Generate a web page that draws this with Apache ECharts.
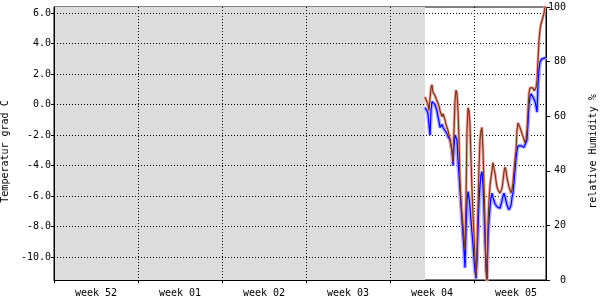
<!DOCTYPE html>
<html><head><meta charset="utf-8">
<script src="https://cdn.jsdelivr.net/npm/echarts@6/dist/echarts.min.js"></script>
<style>html,body{margin:0;padding:0;background:#fff}#c{width:600px;height:300px}</style>
</head><body><div id="c"></div>
<script>
// categories (ISO weeks), x measured in hours from the start of week 52
const weekLabels = ['week 52', 'week 01', 'week 02', 'week 03', 'week 04', 'week 05'];
const hoursPerWeek = 168;
const axisEndHour = 984;
const sampleStartHour = 742;   // first logged sample (end of the grey "no data" period)
const sampleStepHours = 2;

// tick labels
const tempTicks = [-10, -8, -6, -4, -2, 0, 2, 4, 6];
const tempMin = -11.5, tempMax = 6.4;
const humMin = 0, humMax = 100, humStep = 20;

// brown line (temperature, grad C)
const tempValues = [
  0.5, 0.4, 0.4, 0.0, -0.4, 0.4, 1.1, 1.3, 0.8, 0.7,
  0.6, 0.4, 0.3, 0.1, -0.1, -0.4, -0.6, -0.8, -0.6, -0.8,
  -1.0, -1.3, -1.5, -1.7, -2.0, -2.3, -2.7, -3.0, -3.8, -1.7,
  0.3, 0.95, 0.75, -0.4, -2.3, -5.0, -6.3, -7.2, -7.9, -8.9,
  -9.5, -6.3, -1.7, -0.2, -0.4, -1.3, -3.6, -5.6, -7.2, -8.6,
  -10.1, -11.3, -9.5, -6.7, -4.1, -2.3, -1.7, -1.5, -3.0, -5.3,
  -7.8, -10.9, -11.7, -7.8, -6.3, -5.3, -4.8, -4.3, -3.8, -4.2,
  -4.5, -5.0, -5.4, -5.6, -5.7, -5.8, -5.9, -5.5, -5.0, -4.4,
  -4.1, -4.3, -4.8, -5.1, -5.4, -5.6, -5.8, -5.6, -5.1, -4.3,
  -3.6, -3.0, -1.7, -1.2, -1.1, -1.5, -1.7, -1.9, -2.1, -2.3,
  -2.5, -2.3, -1.7, -0.4, 0.75, 1.1, 1.1, 1.0, 1.1, 0.9,
  0.95, 1.1, 1.6, 2.9, 4.2, 4.9, 5.3, 5.5, 5.4, 6.0,
  6.4, 6.5
];
// blue line (second sensor, same scale)
const blueValues = [
  -0.2, -0.2, -0.4, -0.6, -1.3, -2.0, -0.4, 0.2, 0.1, 0.2,
  0.0, -0.1, -0.4, -0.8, -1.1, -1.5, -1.5, -1.3, -1.5, -1.6,
  -1.7, -1.8, -1.9, -2.1, -2.2, -2.3, -2.4, -3.0, -4.0, -2.7,
  -2.0, -1.9, -2.3, -3.6, -4.6, -5.6, -6.6, -7.6, -8.6, -9.5,
  -10.7, -8.2, -6.3, -5.7, -6.1, -6.7, -7.6, -8.4, -9.2, -10.1,
  -10.9, -11.4, -10.2, -8.2, -6.3, -5.3, -4.6, -4.4, -5.3, -6.9,
  -8.9, -10.5, -11.4, -8.7, -7.6, -6.7, -6.1, -5.8, -6.1, -6.3,
  -6.5, -6.6, -6.7, -6.7, -6.8, -6.8, -6.7, -6.3, -6.0, -5.8,
  -5.8, -6.3, -6.6, -6.7, -6.9, -6.9, -6.6, -6.1, -5.8, -5.1,
  -4.3, -3.6, -3.0, -2.7, -2.6, -2.7, -2.7, -2.7, -2.7, -2.8,
  -2.8, -2.7, -2.3, -1.2, 0.0, 0.5, 0.7, 0.75, 0.5, 0.4,
  0.2, -0.1, -0.5, 1.3, 2.3, 2.8, 2.9, 3.0, 2.9, 3.05,
  3.05, 3.1
];

const toPairs = arr => arr.map((v, i) => [sampleStartHour + i * sampleStepHours, v]);
const weekStarts = weekLabels.map((_, i) => i * hoursPerWeek);
const weekMids = weekLabels.map((_, i) => i * hoursPerWeek + hoursPerWeek / 2);

const FONT = 'DejaVu Sans Mono';
const txt = { fontFamily: FONT, fontSize: 10, color: '#000' };
const dotted = { color: '#000', width: 1, type: [1, 2] };

const chart = echarts.init(document.getElementById('c'), null, { renderer: 'canvas' });
chart.setOption({
  animation: false,
  backgroundColor: '#fff',
  grid: { left: 54, right: 54, top: 7, bottom: 20, containLabel: false, outerBoundsMode: 'none',
    show: true, borderColor: '#000', borderWidth: 1, backgroundColor: 'transparent' },
  xAxis: {
    type: 'value', min: 0, max: axisEndHour, z: 3,
    axisLine: { onZero: false, lineStyle: { color: '#000', width: 1 } },
    axisTick: { show: true, length: 3, inside: false, customValues: weekStarts, lineStyle: { color: '#000' } },
    axisLabel: { ...txt, margin: 8, customValues: weekMids,
      formatter: v => weekLabels[Math.round((v - hoursPerWeek / 2) / hoursPerWeek)] || '' },
    splitLine: { show: true, lineStyle: dotted }
  },
  yAxis: [{
    type: 'value', position: 'left', min: tempMin, max: tempMax, z: 3,
    name: 'Temperatur grad C', nameLocation: 'middle', nameGap: 44, nameRotate: 90,
    nameTextStyle: { ...txt, padding: [0, 16, 0, 0] },
    axisLine: { show: true, onZero: false, lineStyle: { color: '#000', width: 1 } },
    axisTick: { show: true, length: 3, customValues: tempTicks, lineStyle: { color: '#000' } },
    axisLabel: { ...txt, margin: 3, customValues: tempTicks, formatter: v => v.toFixed(1) },
    splitLine: { show: true, lineStyle: dotted }
  }, {
    type: 'value', position: 'right', min: humMin, max: humMax, interval: humStep, z: 3,
    alignTicks: false,
    name: 'relative Humidity %', nameLocation: 'middle', nameGap: 42, nameRotate: 90,
    nameTextStyle: { ...txt, padding: [0, 16, 0, 0] },
    axisLine: { show: true, onZero: false, lineStyle: { color: '#000', width: 1 } },
    axisTick: { show: true, length: 4, lineStyle: { color: '#000' } },
    axisLabel: { ...txt, margin: 20, align: 'right' },
    splitLine: { show: false }
  }],
  series: [
    {
      type: 'line', name: 'no data', data: [], z: 1, silent: true,
      markArea: { silent: true, z: 1, itemStyle: { color: '#dcdcdc' },
        data: [[{ xAxis: 0 }, { xAxis: sampleStartHour }]] }
    },
    { type: 'line', name: 'blue band', data: toPairs(blueValues), yAxisIndex: 0, z: 4, showSymbol: false, silent: true,
      lineStyle: { color: '#adadff', width: 4 } },
    { type: 'line', name: 'red band', data: toPairs(tempValues), yAxisIndex: 0, z: 5, showSymbol: false, silent: true,
      lineStyle: { color: '#ffa4a4', width: 3 } },
    { type: 'line', name: 'blue', data: toPairs(blueValues), yAxisIndex: 0, z: 6, showSymbol: false,
      lineStyle: { color: '#0000ff', width: 1.2 } },
    { type: 'line', name: 'temperature', data: toPairs(tempValues), yAxisIndex: 0, z: 7, showSymbol: false,
      lineStyle: { color: '#6b3e1e', width: 1.2 } }
  ]
});
</script>
</body></html>
